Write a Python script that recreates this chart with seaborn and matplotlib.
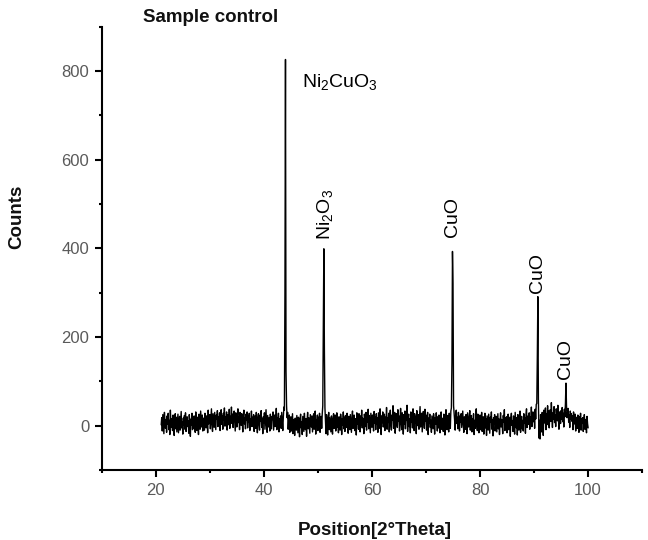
import numpy as np
import pandas as pd
import matplotlib
matplotlib.use("Agg")
import matplotlib.pyplot as plt
import seaborn as sns
from matplotlib.ticker import MultipleLocator

# ---- data (2-theta scan, 0.1 deg step from 21 to 100) ----
counts = [
    2, 18, -12, 25, 5, -18, 30, 8, -6, 14,          # 21
    -15, 22, 3, 28, -9, 12, -20, 35, 6, -4,         # 22
    16, -11, 24, 0, -22, 10, 27, -7, 19, -14,       # 23
    8, 26, -16, 4, 21, -10, 13, 32, -5, 9,          # 24
    -19, 17, 2, 23, -8, 29, -13, 6, 20, -2,         # 25
    11, -17, 25, 7, -24, 15, 1, 28, -9, 18,         # 26
    -6, 22, 9, -15, 31, 3, -11, 19, 12, -20,        # 27
    26, 5, -8, 33, 14, -3, 24, -12, 17, 8,          # 28
    -10, 28, 16, -5, 22, 10, -16, 35, 4, 13,        # 29
    25, -7, 18, 38, 2, -13, 27, 11, -4, 30,         # 30
    9, -9, 24, 15, 34, -2, 20, 6, 29, -11,          # 31
    17, 36, 3, 22, -8, 28, 12, 40, -1, 19,          # 32
    8, 31, -10, 25, 14, 2, 37, -6, 21, 11,          # 33
    42, 5, 26, -4, 18, 33, 9, -12, 29, 16,          # 34
    -3, 24, 38, 7, 20, -9, 30, 13, 1, 27,           # 35
    10, -14, 23, 35, 4, 17, -7, 26, 12, 31,         # 36
    -5, 21, 8, 28, -11, 16, 3, 33, -2, 19,          # 37
    6, 25, -13, 14, 22, -6, 30, 9, -16, 18,         # 38
    27, 2, -10, 24, 11, 34, -4, 15, -18, 20,        # 39
    7, 29, -8, 13, 36, 1, -15, 23, 10, -3,          # 40
    18, -12, 26, 5, -7, 21, 14, 31, -10, 8,         # 41
    24, -2, 12, 39, -9, 17, 6, 28, -14, 15,         # 42
    3, 22, -6, 30, 11, -11, 19, 42, 35, 300,        # 43
    826, 122, 45, 18, 30, -8, 12, 24, -15, 9,       # 44
    20, -12, 6, 27, -18, 14, 2, -22, 17, 8,         # 45
    -10, 23, 4, -16, 19, 11, -25, 15, 26, -5,       # 46
    9, -20, 21, 3, -13, 28, 7, -9, 16, -24,         # 47
    13, 30, -7, 18, 1, -17, 25, 10, -3, 22,         # 48
    -14, 6, 27, -8, 15, 33, -19, 12, 4, 24,         # 49
    -11, 19, 2, 28, -15, 10, 21, -6, 26, 45,        # 50
    224, 399, 171, 40, 12, -18, 25, 6, -21, 14,     # 51
    30, -9, 18, 3, -14, 22, 9, -19, 16, 27,         # 52
    -6, 11, 24, -12, 5, 29, -3, 17, -16, 20,        # 53
    8, -10, 26, 13, -20, 15, 2, 31, -7, 19,         # 54
    -13, 23, 6, -4, 28, 10, -17, 21, 14, -9,        # 55
    25, 3, -15, 18, 33, -6, 12, 24, -11, 7,         # 56
    16, -21, 29, 4, 20, -8, 27, 9, -14, 22,         # 57
    1, 35, -5, 17, 11, -18, 26, 14, -2, 30,         # 58
    -10, 19, 8, 37, -7, 23, 5, -16, 28, 12,         # 59
    -4, 24, 16, -12, 32, 6, 20, -9, 27, 3,          # 60
    18, -15, 29, 10, -6, 38, 13, -20, 22, 7,        # 61
    31, -3, 15, 26, -11, 19, 4, 41, -8, 17,         # 62
    9, 28, -14, 21, 35, 2, -10, 24, 12, 45,         # 63
    -6, 16, 30, -17, 8, 27, 19, -4, 36, 11,         # 64
    22, -12, 14, 39, 5, -9, 29, 17, -19, 25,        # 65
    3, 33, -7, 20, 12, 46, -13, 18, 26, -2,         # 66
    15, -16, 31, 8, 23, -5, 38, 10, -11, 27,        # 67
    6, 21, -18, 34, 13, 0, 25, -8, 19, 43,          # 68
    -3, 16, 28, -14, 9, 32, 20, -6, 37, 11,         # 69
    24, -10, 14, 30, -20, 17, 5, 26, -4, 12,        # 70
    -15, 22, 8, -7, 27, 13, -19, 18, 3, 29,         # 71
    10, -12, 20, -5, 24, 7, -16, 15, 31, -8,        # 72
    17, 4, -13, 26, 11, -21, 19, 36, 2, -9,         # 73
    23, 8, -14, 28, 14, -6, 33, 40, 142, 393,       # 74
    320, 45, 28, 12, -10, 24, 35, 5, 19, -7,        # 75
    30, 14, -12, 22, 8, 27, -4, 16, 33, 2,          # 76
    -15, 20, 11, -8, 25, 6, -18, 29, 13, -3,        # 77
    18, 34, -10, 9, 23, -14, 15, 4, 27, -20,        # 78
    12, -6, 21, 38, 1, -11, 26, 8, -16, 17,         # 79
    24, -9, 5, 30, -13, 14, 20, -19, 10, 28,        # 80
    -5, 16, -22, 22, 7, -10, 26, 3, -17, 19,        # 81
    9, 31, -8, 13, -23, 18, 4, 25, -12, 11,         # 82
    21, -14, 6, 27, -7, 15, -20, 10, 29, -3,        # 83
    14, 2, -18, 23, 8, 36, -11, 17, -6, 20,         # 84
    -16, 12, 26, -9, 5, 19, -24, 15, 28, 1,         # 85
    10, -13, 22, 7, -19, 30, 13, -5, 18, -21,       # 86
    25, 4, -10, 16, 33, -15, 9, 21, -7, 12,         # 87
    -12, 27, 6, 18, -17, 24, 38, -4, 14, 22,        # 88
    3, 29, -8, 20, 11, 42, -2, 17, 31, 9,           # 89
    26, -6, 37, 15, 48, 50, 156, 291, 60, -28,      # 90
    12, -30, 25, 8, -14, 30, 19, -22, 35, 6,        # 91
    18, 40, -9, 27, 14, 45, 2, 33, -5, 22,          # 92
    36, 10, 52, 19, -4, 29, 15, 43, 7, 24,          # 93
    -2, 38, 21, 11, 46, 16, -8, 31, 26, 5,          # 94
    34, 14, 41, 9, 28, -3, 37, 20, 50, 96,          # 95
    45, 18, 30, 39, 8, 24, -4, 33, 15, 27,          # 96
    10, 22, -9, 31, 14, 4, 26, -12, 19, 8,          # 97
    -6, 24, 12, -15, 20, 3, 28, -10, 16, 6,         # 98
    18, -13, 9, 25, -8, 14, 1, -16, 21, 4,          # 99
    -5,                                             # 100
]
two_theta = np.linspace(21.0, 100.0, len(counts))

peak_labels = ["CuO", "CuO", "CuO"]
peak_pos = [74.9, 90.7, 95.9]
peak_label_y = [426, 299, 105]

x_ticks = [20, 40, 60, 80, 100]
y_ticks = [0, 200, 400, 600, 800]

df = pd.DataFrame({"two_theta": two_theta, "counts": counts})

# ---- style ----
sns.set_style("ticks")
plt.rcParams["font.family"] = ["Liberation Sans", "DejaVu Sans"]
plt.rcParams["mathtext.default"] = "regular"
plt.rcParams["text.color"] = "black"
plt.rcParams["axes.labelcolor"] = "black"

fig = plt.figure(figsize=(6.48, 5.4), dpi=100)
ax = fig.add_axes([0.157, 0.1296, 0.834, 0.821])

sns.lineplot(data=df, x="two_theta", y="counts", ax=ax, color="black",
             linewidth=1.0, estimator=None, sort=False)

ax.set_xlim(10, 110)
ax.set_ylim(-100, 900)
ax.set_xticks(x_ticks)
ax.set_yticks(y_ticks)
ax.xaxis.set_minor_locator(MultipleLocator(10))
ax.yaxis.set_minor_locator(MultipleLocator(100))
ax.tick_params(axis="both", which="major", direction="out", length=5,
               width=1.5, labelsize=12, labelcolor="#5a5a5a", pad=4,
               color="black")
ax.tick_params(axis="both", which="minor", direction="out", length=2.5,
               width=1.5, color="black")
for s in ["top", "right"]:
    ax.spines[s].set_visible(False)
for s in ["left", "bottom"]:
    ax.spines[s].set_linewidth(1.5)
    ax.spines[s].set_color("black")

ax.set_xlabel("Position[2°Theta]", fontsize=13.5, fontweight="bold",
              color="#111111")
ax.set_ylabel("Counts", fontsize=13.5, fontweight="bold", color="#111111")
ax.xaxis.set_label_coords(0.505, -0.117)
ax.yaxis.set_label_coords(-0.142, 0.571)

fig.text(0.22, 0.968, "Sample control", fontsize=13.5, fontweight="bold",
         ha="left", va="center", color="#111111")

# peak annotations
ax.text(47.0, 765, "Ni$_2$CuO$_3$", fontsize=14, ha="left", va="baseline",
        color="black")
ax.text(51.4, 419, "Ni$_2$O$_3$", fontsize=14, rotation=90,
        ha="center", va="bottom", color="black")
for lab, px, py in zip(peak_labels, peak_pos, peak_label_y):
    ax.text(px, py, lab, fontsize=14, rotation=90, ha="center", va="bottom",
            color="black")

fig.savefig("out.png", dpi=100)
